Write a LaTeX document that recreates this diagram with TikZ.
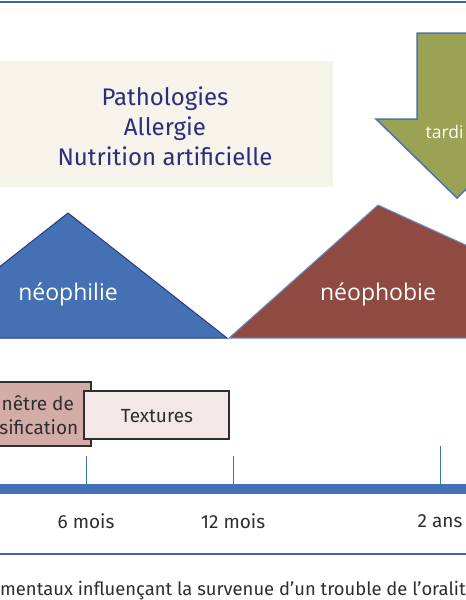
\documentclass[tikz,border=0pt]{standalone}
\usepackage{fontspec}
\setmainfont{Fira Sans}
\newfontfamily\labfont{Open Sans}
\definecolor{frameblue}{HTML}{3D62AA}
\definecolor{barblue}{HTML}{4470B4}
\definecolor{navytext}{HTML}{2E2D7C}
\definecolor{beige}{HTML}{F5F3EA}
\definecolor{olive}{HTML}{9AA254}
\definecolor{arrowedge}{HTML}{4A72B8}
\definecolor{triblue}{HTML}{4470B4}
\definecolor{triblueedge}{HTML}{2B3A84}
\definecolor{brown}{HTML}{8F4B41}
\definecolor{brownedge}{HTML}{6B93D6}
\definecolor{pinkbox}{HTML}{D3ACA8}
\definecolor{lightpink}{HTML}{F3E7E7}
\definecolor{darkgray}{HTML}{2E2E2E}
\tikzset{
  rule/.style={draw=frameblue, line width=2.2pt},
  trilabel/.style={text=white, font=\labfont\fontsize{23}{26}\selectfont},
  boxtext/.style={text=darkgray, font=\fontsize{19}{24}\selectfont, inner sep=0.5pt},
  agebox/.style={draw=darkgray, line width=1.3pt},
  tick/.style={draw=barblue, line width=1pt},
  agelabel/.style={text=darkgray, font=\fontsize{19}{21}\selectfont}
}
\begin{document}
\begin{tikzpicture}[x=1pt,y=-1pt]
\useasboundingbox (0,0) rectangle (466,600);
\clip (0,0) rectangle (466,600);
% top rule
\coordinate (tl) at (0,2);
\coordinate (tr) at (466,2);
\draw[rule] (tl) -- (tr);
% beige box
\fill[beige] (-2,61) rectangle (333,187);
\node[text=navytext, font=\fontsize{24}{30}\selectfont, align=center] (patho) at (165,126)
  {Pathologies\\Allergie\\Nutrition artificielle};
% green arrow
\draw[fill=olive, draw=arrowedge, line width=1.5pt]
  (417,33) -- (417,119) -- (376,119) -- (457,198) -- (538,119) -- (497,119) -- (497,33) -- cycle;
\node[text=white, font=\labfont\fontsize{17.5}{20}\selectfont, anchor=west, inner sep=0.5pt] (tardi) at (425,132) {tardi};
% triangles
\draw[fill=triblue, draw=triblueedge, line width=1pt] (-91,338) -- (68,213) -- (227,338) -- cycle;
\node[trilabel] (neophilie) at (68,294) {néophilie};
\draw[fill=brown, draw=brownedge, line width=1pt] (229,338) -- (378,205) -- (670,338) -- cycle;
\node[trilabel] (neophobie) at (378,294) {néophobie};
% age boxes
\draw[agebox, fill=pinkbox] (-47,382) rectangle (91,446);
\node[boxtext, anchor=west] (fen1) at (1,403) {nêtre de};
\node[boxtext, anchor=east] (fen2) at (79,427) {sification};
\draw[agebox, fill=lightpink] (84,391) rectangle (229,439);
\node[boxtext] (textures) at (157,416) {Textures};
% timeline
\coordinate (bl) at (0,489);
\coordinate (br) at (466,489);
\draw[draw=barblue, line width=10pt] (bl) -- (br);
\coordinate (t6a) at (86,456); \coordinate (t6b) at (86,484);
\coordinate (t12a) at (233,456); \coordinate (t12b) at (233,484);
\coordinate (t2a) at (440,446); \coordinate (t2b) at (440,484);
\draw[tick] (t6a) -- (t6b);
\draw[tick] (t12a) -- (t12b);
\draw[tick] (t2a) -- (t2b);
\node[agelabel] (m6) at (86,521) {6 mois};
\node[agelabel] (m12) at (233,521) {12 mois};
\node[agelabel] (a2) at (440,521) {2 ans};
% bottom rule
\coordinate (bbl) at (0,554);
\coordinate (bbr) at (466,554);
\draw[rule] (bbl) -- (bbr);
\node[text=darkgray, font=\fontsize{18.4}{20}\selectfont, anchor=west, inner sep=0pt] (caption) at (0,591)
  {mentaux influençant la survenue d’un trouble de l’oralit};
\end{tikzpicture}
\end{document}
